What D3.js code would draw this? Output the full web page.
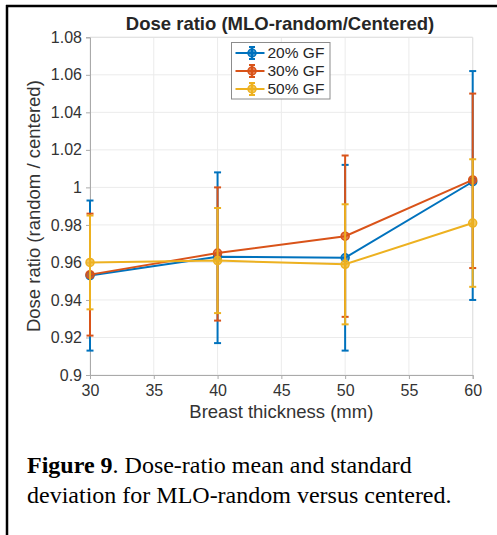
<!DOCTYPE html>
<html>
<head>
<meta charset="utf-8">
<script src="https://cdn.jsdelivr.net/npm/d3@7"></script>
<style>
  body { margin: 0; background: #fff; }
  svg { display: block; }
</style>
</head>
<body>
<svg id="chart"></svg>
<script>
var width = 497,
    height = 535;

// breast thickness (mm)
var thickness = [30, 40, 50, 60];

// series names and colours (matlab default order)
var seriesNames = ["20% GF", "30% GF", "50% GF"];
var seriesColors = ["#0072BD", "#D95319", "#EDB120"];

// mean dose ratio per series
var mean20 = [0.953, 0.963, 0.9625, 1.003];
var mean30 = [0.9535, 0.965, 0.974, 1.004];
var mean50 = [0.960, 0.961, 0.959, 0.981];

// upper / lower ends of the error bars
var hi20 = [0.993, 1.008, 1.012, 1.062];
var lo20 = [0.913, 0.917, 0.913, 0.940];
var hi30 = [0.986, 1.000, 1.017, 1.050];
var lo30 = [0.921, 0.929, 0.931, 0.957];
var hi50 = [0.985, 0.989, 0.991, 1.015];
var lo50 = [0.935, 0.933, 0.927, 0.947];

var xTicks = [30, 35, 40, 45, 50, 55, 60];
var yTicks = [0.9, 0.92, 0.94, 0.96, 0.98, 1, 1.02, 1.04, 1.06, 1.08];

var series = [
  { name: seriesNames[0], color: seriesColors[0], mean: mean20, hi: hi20, lo: lo20 },
  { name: seriesNames[1], color: seriesColors[1], mean: mean30, hi: hi30, lo: lo30 },
  { name: seriesNames[2], color: seriesColors[2], mean: mean50, hi: hi50, lo: lo50 }
];

var font = "Arial, 'Liberation Sans', Helvetica, sans-serif";

var x = d3.scaleLinear()
  .domain([30, 60])
  .range([90, 472.7]);

var y = d3.scaleLinear()
  .domain([0.9, 1.08])
  .range([375, 37.3]);

var svg = d3.select("#chart")
  .attr("width", width)
  .attr("height", height);

// frame of the figure (left and top rules only)
svg.append("line")
  .attr("x1", 7).attr("x2", 7)
  .attr("y1", 5).attr("y2", height)
  .attr("stroke", "#000").attr("stroke-width", 2.5);
svg.append("line")
  .attr("x1", 6).attr("x2", width)
  .attr("y1", 6).attr("y2", 6)
  .attr("stroke", "#000").attr("stroke-width", 2.5);

var plot = svg.append("g");

// grid
plot.append("g")
  .selectAll("line")
  .data(xTicks)
  .enter().append("line")
    .attr("x1", function (d) { return x(d); })
    .attr("x2", function (d) { return x(d); })
    .attr("y1", y(0.9)).attr("y2", y(1.08))
    .attr("stroke", "#ebebeb").attr("stroke-width", 1);
plot.append("g")
  .selectAll("line")
  .data(yTicks)
  .enter().append("line")
    .attr("x1", x(30)).attr("x2", x(60))
    .attr("y1", function (d) { return y(d); })
    .attr("y2", function (d) { return y(d); })
    .attr("stroke", "#ebebeb").attr("stroke-width", 1);

// box top + right
plot.append("path")
  .attr("d", "M" + x(30) + "," + y(1.08) + "H" + x(60) + "V" + y(0.9))
  .attr("fill", "none")
  .attr("stroke", "#e0e0e0");

// axes
var xAxis = d3.axisBottom(x)
  .tickValues(xTicks)
  .tickSize(4)
  .tickPadding(6)
  .tickFormat(d3.format("d"));

var yAxis = d3.axisLeft(y)
  .tickValues(yTicks)
  .tickSize(4)
  .tickPadding(4)
  .tickFormat(function (d) { return String(+d.toFixed(2)); });

var gx = plot.append("g")
  .attr("transform", "translate(0," + y(0.9) + ")")
  .call(xAxis);
var gy = plot.append("g")
  .attr("transform", "translate(" + x(30) + ",0)")
  .call(yAxis);

[gx, gy].forEach(function (g) {
  g.select(".domain").attr("stroke", "#aaaaaa");
  g.selectAll(".tick line").attr("stroke", "#aaaaaa");
  g.selectAll(".tick text")
    .attr("fill", "#333")
    .style("font-family", font)
    .style("font-size", "16px");
});

// error bars, lines and markers
var line = d3.line()
  .x(function (d, i) { return x(thickness[i]); })
  .y(function (d) { return y(d); });

series.forEach(function (s) {
  var g = plot.append("g");

  g.selectAll("line.bar")
    .data(thickness)
    .enter().append("line")
      .attr("class", "bar")
      .attr("x1", function (d) { return x(d); })
      .attr("x2", function (d) { return x(d); })
      .attr("y1", function (d, i) { return y(s.lo[i]); })
      .attr("y2", function (d, i) { return y(s.hi[i]); })
      .attr("stroke", s.color).attr("stroke-width", 2);

  ["lo", "hi"].forEach(function (k) {
    g.selectAll("line.cap-" + k)
      .data(thickness)
      .enter().append("line")
        .attr("class", "cap-" + k)
        .attr("x1", function (d) { return x(d) - 3.5; })
        .attr("x2", function (d) { return x(d) + 3.5; })
        .attr("y1", function (d, i) { return y(s[k][i]); })
        .attr("y2", function (d, i) { return y(s[k][i]); })
        .attr("stroke", s.color).attr("stroke-width", 2);
  });

  g.append("path")
    .datum(s.mean)
    .attr("d", line)
    .attr("fill", "none")
    .attr("stroke", s.color)
    .attr("stroke-width", 2);

  g.selectAll("circle")
    .data(s.mean)
    .enter().append("circle")
      .attr("cx", function (d, i) { return x(thickness[i]); })
      .attr("cy", function (d) { return y(d); })
      .attr("r", 4)
      .attr("fill", s.color)
      .attr("fill-opacity", 0.75)
      .attr("stroke", s.color)
      .attr("stroke-width", 1.5);
});

// legend
var legend = svg.append("g")
  .attr("transform", "translate(231.5,42.5)");
legend.append("rect")
  .attr("width", 98.5).attr("height", 56.5)
  .attr("fill", "#fff")
  .attr("stroke", "#8c8c8c").attr("stroke-width", 1);

var item = legend.selectAll("g.item")
  .data(series)
  .enter().append("g")
    .attr("class", "item")
    .attr("transform", function (d, i) { return "translate(0," + (10.5 + i * 18) + ")"; });
item.append("line")
  .attr("x1", 4).attr("x2", 33)
  .attr("stroke", function (d) { return d.color; }).attr("stroke-width", 2);
item.append("line")
  .attr("x1", 20.5).attr("x2", 20.5)
  .attr("y1", -6).attr("y2", 6)
  .attr("stroke", function (d) { return d.color; }).attr("stroke-width", 2);
item.append("line")
  .attr("x1", 17.5).attr("x2", 23.5)
  .attr("y1", -6).attr("y2", -6)
  .attr("stroke", function (d) { return d.color; }).attr("stroke-width", 2);
item.append("line")
  .attr("x1", 17.5).attr("x2", 23.5)
  .attr("y1", 6).attr("y2", 6)
  .attr("stroke", function (d) { return d.color; }).attr("stroke-width", 2);
item.append("circle")
  .attr("cx", 20.5).attr("r", 4)
  .attr("fill", function (d) { return d.color; })
  .attr("fill-opacity", 0.75)
  .attr("stroke", function (d) { return d.color; }).attr("stroke-width", 1.5);
item.append("text")
  .attr("x", 36)
  .attr("dy", "0.35em")
  .attr("fill", "#262626")
  .style("font-family", font)
  .style("font-size", "15.5px")
  .text(function (d) { return d.name; });

// title and axis labels
svg.append("text")
  .attr("x", 280)
  .attr("y", 30)
  .attr("text-anchor", "middle")
  .attr("fill", "#262626")
  .style("font-family", font)
  .style("font-size", "18.5px")
  .style("font-weight", "bold")
  .text("Dose ratio (MLO-random/Centered)");

svg.append("text")
  .attr("x", (x(30) + x(60)) / 2)
  .attr("y", 418)
  .attr("text-anchor", "middle")
  .attr("fill", "#333")
  .style("font-family", font)
  .style("font-size", "18.5px")
  .text("Breast thickness (mm)");

svg.append("text")
  .attr("transform", "translate(40," + ((y(0.9) + y(1.08)) / 2) + ") rotate(-90)")
  .attr("text-anchor", "middle")
  .attr("fill", "#333")
  .style("font-family", font)
  .style("font-size", "18.5px")
  .text("Dose ratio (random / centered)");

// caption
var caption = svg.append("text")
  .attr("fill", "#000")
  .style("font-family", "'Times New Roman', 'Liberation Serif', serif")
  .style("font-size", "24px");
var l1 = caption.append("tspan").attr("x", 27).attr("y", 473);
l1.append("tspan").style("font-weight", "bold").text("Figure 9");
l1.append("tspan").text(". Dose-ratio mean and standard");
caption.append("tspan").attr("x", 27).attr("y", 503)
  .text("deviation for MLO-random versus centered.");
</script>
</body>
</html>
